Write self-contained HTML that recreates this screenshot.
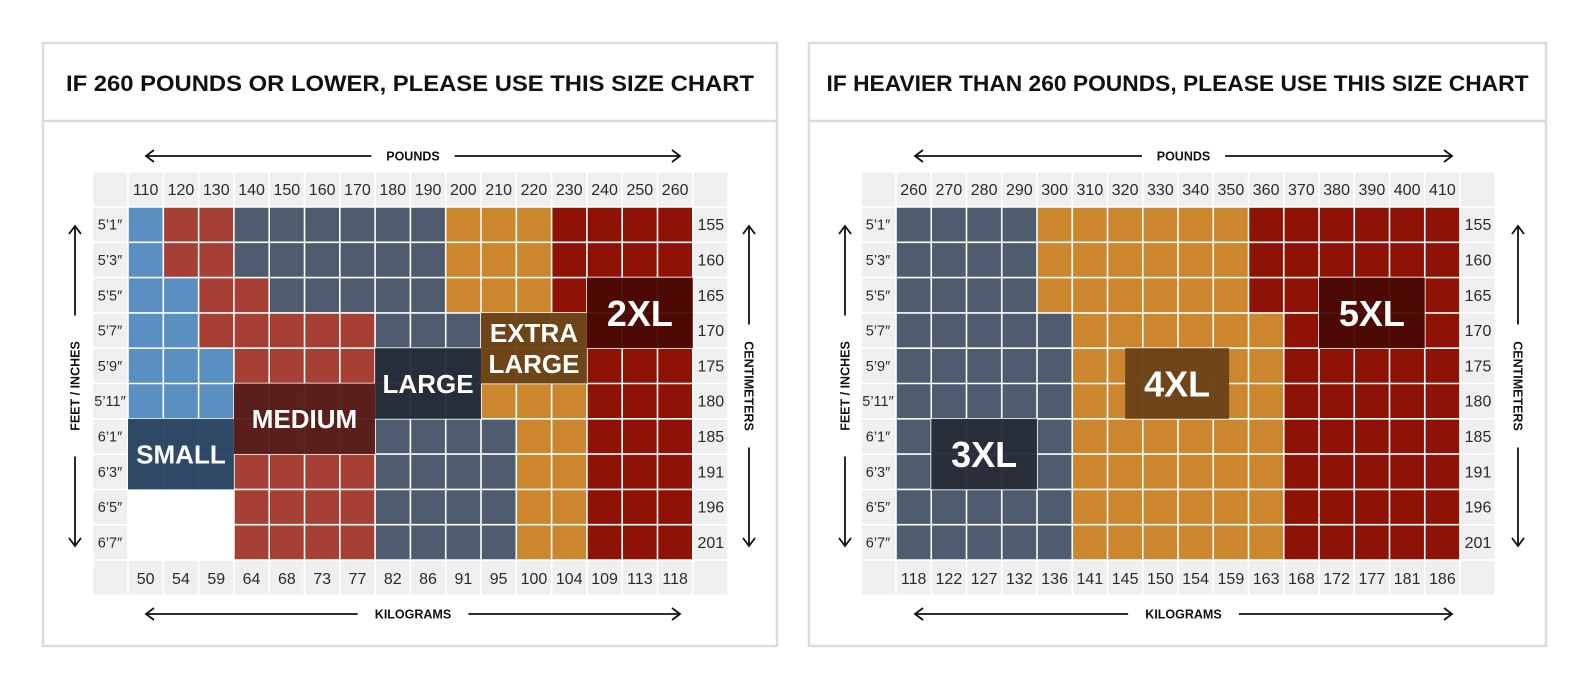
<!DOCTYPE html>
<html><head><meta charset="utf-8">
<style>
html,body{margin:0;padding:0;background:#fff;}
svg{display:block;font-family:"Liberation Sans",Arial,sans-serif;}
</style></head>
<body>
<svg id="chart" width="1590" height="689" viewBox="0 0 1590 689" xmlns="http://www.w3.org/2000/svg"></svg>
<script>
// ---- data ----
const poundsA = ["110","120","130","140","150","160","170","180","190","200","210","220","230","240","250","260"];
const kilosA = ["50","54","59","64","68","73","77","82","86","91","95","100","104","109","113","118"];
const poundsB = ["260","270","280","290","300","310","320","330","340","350","360","370","380","390","400","410"];
const kilosB = ["118","122","127","132","136","141","145","150","154","159","163","168","172","177","181","186"];
const heights = ["5\u20191\u2033","5\u20193\u2033","5\u20195\u2033","5\u20197\u2033","5\u20199\u2033","5\u201911\u2033","6\u20191\u2033","6\u20193\u2033","6\u20195\u2033","6\u20197\u2033"];
const cms = ["155","160","165","170","175","180","185","191","196","201"];
// size codes per row: S small, M medium, L large, X extra large, Z 2XL, _ none
const gridA = [
"SMMLLLLLLXXXZZZZ",
"SMMLLLLLLXXXZZZZ",
"SSMMLLLLLXXXZZZZ",
"SSMMMMMLLLXXXZZZ",
"SSSMMMMLLLXXXZZZ",
"SSSMMMMLLLXXXZZZ",
"SSSMMMMLLLLXXZZZ",
"SSSMMMMLLLLXXZZZ",
"___MMMMLLLLXXZZZ",
"___MMMMLLLLXXZZZ"];
// 3 = 3XL, 4 = 4XL, 5 = 5XL
const gridB = [
"3333444444555555",
"3333444444555555",
"3333444444555555",
"3333344444455555",
"3333344444455555",
"3333344444455555",
"3333344444455555",
"3333344444455555",
"3333344444455555",
"3333344444455555"];
// label boxes: [text, col0, row0, cols, rows]
const labelsA = [["SMALL",0,6,3,2],["MEDIUM",3,5,4,2],["LARGE",7,4,3,2],["EXTRA|LARGE",10,3,3,2],["2XL",13,2,3,2]];
const labelsB = [["3XL",1,6,3,2],["4XL",6.5,4,2.95,2],["5XL",12,2,3,2]];

const colors = {S:"#5a8fc1",M:"#a63f34",L:"#4f5c6f",X:"#cc862e",Z:"#8f1206",_:"#ffffff","3":"#4f5c6f","4":"#cc862e","5":"#8f1206"};
const boxColors = {"SMALL":"#2c4661","MEDIUM":"#561e1a","LARGE":"#252d39","EXTRA|LARGE":"#6a4318","2XL":"#4a0a05","3XL":"#262d38","4XL":"#6a4218","5XL":"#4a0a05"};

const NS="http://www.w3.org/2000/svg";
const svg=document.getElementById('chart');
function el(tag,attrs,parent){const e=document.createElementNS(NS,tag);for(const k in attrs)e.setAttribute(k,attrs[k]);(parent||svg).appendChild(e);return e;}

function drawPanel(p){
  const g=el('g',{});
  
  
  const r=el('rect',{x:p.px,y:43,width:p.pw,height:603,fill:'#fff',stroke:'#dcdcdc','stroke-width':2.5},g);
  
  
  el('line',{x1:p.px,x2:p.px+p.pw,y1:121,y2:121,stroke:'#dcdcdc','stroke-width':2.5},g);
  const t=el('text',{x:p.px+p.pw/2,y:91,'text-anchor':'middle','font-size':22,'font-weight':'bold',fill:'#111',textLength:p.tl,lengthAdjust:'spacingAndGlyphs'},g);
  t.textContent=p.title;
  
  
  const x0=p.gx, y0=207, cw=p.cw, ch=35.3, n=16, m=10;
  const xs=i=>x0+i*cw, ys=j=>y0+j*ch;
  // label backgrounds
  el('rect',{x:x0-35.5,y:y0-35,width:n*cw+71,height:m*ch+70,fill:'#efefef'},g);
  // header cells
  p.pounds.forEach((v,i)=>{
    const tx=el('text',{x:xs(i)+cw/2,y:y0-12,'text-anchor':'middle','font-size':16,fill:'#2a2a2a'},g);
    tx.textContent=v;
    
    
  });
  p.kilos.forEach((v,i)=>{
    const tx=el('text',{x:xs(i)+cw/2,y:ys(m)+24,'text-anchor':'middle','font-size':16,fill:'#2a2a2a'},g);
    tx.textContent=v;
    
    
  });
  heights.forEach((v,j)=>{
    const tx=el('text',{x:x0-18,y:ys(j)+ch/2+5,'text-anchor':'middle','font-size':14.5,fill:'#2a2a2a'},g);
    tx.textContent=v;
    
    
  });
  cms.forEach((v,j)=>{
    const tx=el('text',{x:xs(n)+18,y:ys(j)+ch/2+5.5,'text-anchor':'middle','font-size':16,fill:'#2a2a2a'},g);
    tx.textContent=v;
    
    
  });
  // cells
  p.grid.forEach((row,j)=>{
    for(let i=0;i<n;i++){
      const c=el('rect',{x:xs(i),y:ys(j),width:cw,height:ch,fill:colors[row[i]]},g);
      
      
    }
  });
  // grid lines
  for(let i=-1;i<=n+1;i++) el('line',{x1:xs(i),x2:xs(i),y1:y0-35,y2:ys(m)+35,stroke:'#fff','stroke-width':1.6},g);
  for(let j=-1;j<=m+1;j++) el('line',{x1:x0-35.5,x2:xs(n)+35.5,y1:ys(j),y2:ys(j),stroke:'#fff','stroke-width':1.6},g);
  // label boxes
  p.labels.forEach(L=>{
    const [txt,c0,r0,cs,rs]=L;
    const bx=el('rect',{x:xs(c0),y:ys(r0),width:cs*cw,height:rs*ch,fill:boxColors[txt],opacity:0.96},g);
    
    
    const lines=txt.split('|');
    const big=txt.indexOf('XL')>=0 && txt.length===3;
    const fs=big?36:(lines.length>1?26:26);
    lines.forEach((ln,k)=>{
      const cy=ys(r0)+rs*ch/2+(k-(lines.length-1)/2)*31+fs*0.36;
      const tx=el('text',{x:xs(c0)+cs*cw/2,y:cy,'text-anchor':'middle','font-size':fs,'font-weight':'bold',fill:'#fff'},g);
      tx.textContent=ln;
      
      
    });
  });
  // axis arrows
  const ax=p.arrow;
  function hArrow(y,label,nm){
    const cx=(ax[0]+ax[1])/2, half=label.length*4.6+14;
    el('line',{x1:ax[0],x2:cx-half,y1:y,y2:y,stroke:'#111','stroke-width':1.8},g);
    el('line',{x1:cx+half,x2:ax[1],y1:y,y2:y,stroke:'#111','stroke-width':1.8},g);
    el('path',{d:`M${ax[0]+8},${y-6} L${ax[0]},${y} L${ax[0]+8},${y+6}`,fill:'none',stroke:'#111','stroke-width':1.8},g);
    el('path',{d:`M${ax[1]-8},${y-6} L${ax[1]},${y} L${ax[1]-8},${y+6}`,fill:'none',stroke:'#111','stroke-width':1.8},g);
    const tx=el('text',{x:cx,y:y+4.5,'text-anchor':'middle','font-size':12.5,'font-weight':'bold',fill:'#111'},g);
    tx.textContent=label;
    
    
  }
  hArrow(156,'POUNDS','pounds-axis-title');
  hArrow(614,'KILOGRAMS','kilograms-axis-title');
  function vArrow(x,label,nm){
    const y1=226,y2=546,cy=(y1+y2)/2,half=label.length*4.5+12;
    el('line',{x1:x,x2:x,y1:y1,y2:cy-half,stroke:'#111','stroke-width':1.8},g);
    el('line',{x1:x,x2:x,y1:cy+half,y2:y2,stroke:'#111','stroke-width':1.8},g);
    el('path',{d:`M${x-6},${y1+8} L${x},${y1} L${x+6},${y1+8}`,fill:'none',stroke:'#111','stroke-width':1.8},g);
    el('path',{d:`M${x-6},${y2-8} L${x},${y2} L${x+6},${y2-8}`,fill:'none',stroke:'#111','stroke-width':1.8},g);
    const rot=nm==='feet-inches-axis-title'?-90:90;
    const tx=el('text',{x:x,y:cy,'text-anchor':'middle','font-size':12.5,'font-weight':'bold',fill:'#111',transform:`rotate(${rot} ${x} ${cy}) translate(0 4.5)`},g);
    tx.textContent=label;
    
    
  }
  vArrow(p.vl,'FEET / INCHES','feet-inches-axis-title');
  vArrow(p.vr,'CENTIMETERS','centimeters-axis-title');
}

drawPanel({name:'chart-260-or-lower',px:43,pw:734,title:'IF 260 POUNDS OR LOWER, PLEASE USE THIS SIZE CHART',tl:688,
  gx:128,cw:35.3,pounds:poundsA,kilos:kilosA,grid:gridA,labels:labelsA,arrow:[146,680],vl:75,vr:749});
drawPanel({name:'chart-heavier-than-260',px:809,pw:737,title:'IF HEAVIER THAN 260 POUNDS, PLEASE USE THIS SIZE CHART',tl:702,
  gx:896,cw:35.25,pounds:poundsB,kilos:kilosB,grid:gridB,labels:labelsB,arrow:[915,1452],vl:845,vr:1518});
</script>
</body></html>
